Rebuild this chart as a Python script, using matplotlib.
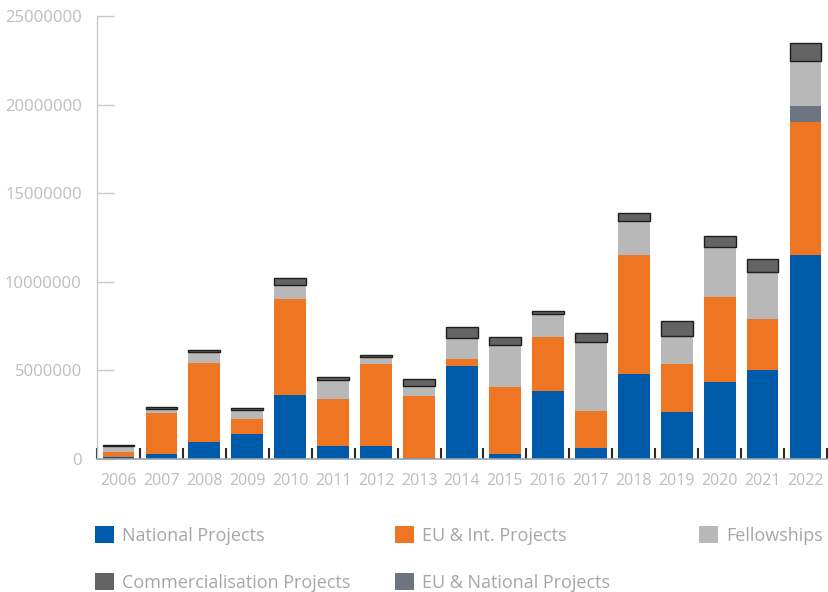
import numpy as np
import matplotlib
matplotlib.use("Agg")
import matplotlib.pyplot as plt

plt.rcParams["font.family"] = ["Open Sans", "DejaVu Sans"]

years = ["2006", "2007", "2008", "2009", "2010", "2011", "2012", "2013", "2014",
         "2015", "2016", "2017", "2018", "2019", "2020", "2021", "2022"]

national = [100000, 300000, 940000, 1430000, 3610000, 750000, 750000, 30000, 5250000,
            300000, 3820000, 620000, 4810000, 2650000, 4350000, 5020000, 11510000]
eu_int = [320000, 2310000, 4480000, 810000, 5400000, 2640000, 4610000, 3530000, 390000,
          3750000, 3050000, 2090000, 6700000, 2690000, 4790000, 2880000, 7520000]
eu_national = [0, 0, 0, 0, 0, 0, 0, 0, 0,
               0, 0, 0, 0, 0, 0, 0, 890000]
fellowships = [310000, 230000, 630000, 510000, 830000, 1050000, 380000, 580000, 1190000,
               2400000, 1300000, 3910000, 1940000, 1620000, 2820000, 2670000, 2560000]
commercial = [70000, 90000, 80000, 130000, 370000, 190000, 110000, 390000, 620000,
              420000, 200000, 490000, 410000, 850000, 610000, 700000, 980000]

# drawing order bottom -> top
series = [
    ("National Projects", national, "#005aaa"),
    ("EU & Int. Projects", eu_int, "#ee7623"),
    ("EU & National Projects", eu_national, "#6d7580"),
    ("Fellowships", fellowships, "#b8b8b8"),
    ("Commercialisation Projects", commercial, "#636363"),
]

tick_col = "#bdbdbd"
text_col = "#a6a6a6"

fig = plt.figure(figsize=(8.29, 5.92), dpi=100)
ax = fig.add_axes([97 / 829, 1 - 459 / 592, 730 / 829, 443 / 592])

x = np.arange(len(years))
bottom = np.zeros(len(years))
handles = {}
for name, vals, col in series:
    vals = np.array(vals, dtype=float)
    if name == "Commercialisation Projects":
        b = ax.bar(x, vals, 0.74, bottom=bottom, color=col, edgecolor="#1e1e1e", linewidth=1.0, label=name)
    else:
        b = ax.bar(x, vals, 0.74, bottom=bottom, color=col, edgecolor="none", label=name)
    handles[name] = b
    bottom += vals

ax.set_xlim(-0.5, len(years) - 0.5)
ax.set_ylim(0, 25000000)
ax.set_yticks(np.arange(0, 25000001, 5000000))
ax.set_yticklabels([str(int(v)) for v in np.arange(0, 25000001, 5000000)])
ax.set_xticks(x)
ax.set_xticklabels(years)
ax.set_xticks(np.arange(-0.5, len(years), 1.0), minor=True)

ax.tick_params(axis="y", direction="in", length=12.5, width=1, color="#c8c8c8",
               labelcolor=tick_col, labelsize=12, pad=11)
ax.tick_params(axis="x", which="major", length=0, labelcolor=tick_col, labelsize=11.5, pad=10)
ax.tick_params(axis="x", which="minor", direction="in", length=8, width=1.5, color="#2a2a2a")

for s in ["top", "right"]:
    ax.spines[s].set_visible(False)
ax.spines["left"].set_color("#c8c8c8")
ax.spines["bottom"].set_color("#9aa3ad")
ax.spines["left"].set_linewidth(1)
ax.spines["bottom"].set_linewidth(1.2)

# legend: three columns placed by hand
cols = [
    (95 / 829, ["National Projects", "Commercialisation Projects"]),
    (395 / 829, ["EU & Int. Projects", "EU & National Projects"]),
    (699 / 829, ["Fellowships"]),
]
for xpos, names in cols:
    leg = fig.legend([handles[n] for n in names], names, loc="upper left",
                     bbox_to_anchor=(xpos, 1 - 526 / 592), frameon=False,
                     fontsize=13, handlelength=1.05, handleheight=1.1,
                     handletextpad=0.45, labelspacing=1.55, borderaxespad=0,
                     borderpad=0)
    for t in leg.get_texts():
        t.set_color(text_col)
    for h in leg.legend_handles:
        h.set_edgecolor("none")

fig.savefig("out.png", dpi=100)
